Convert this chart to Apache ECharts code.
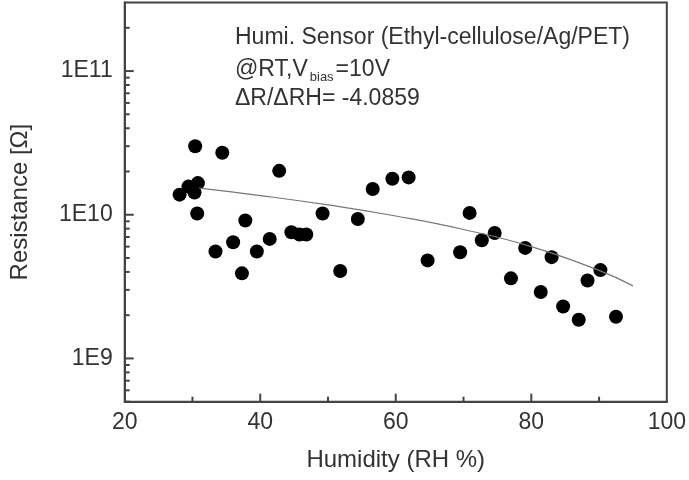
<!DOCTYPE html>
<html>
<head>
<meta charset="utf-8">
<script src="https://cdn.jsdelivr.net/npm/echarts@6/dist/echarts.min.js"></script>
<style>
  html, body { margin: 0; padding: 0; background: #fff; }
  #main { width: 689px; height: 480px; }
</style>
</head>
<body>
<div id="main"></div>
<script>
// measured points: humidity (RH %) and resistance (ohm)
var humidity = [28.1, 29.4, 30.3, 30.8, 30.4, 30.7, 33.4, 34.4, 36.0, 37.3, 37.8, 39.5, 41.4, 42.8,
    44.6, 45.8, 46.8, 49.2, 51.8, 54.4, 56.6, 59.5, 61.9, 64.7, 69.5, 70.9, 72.7, 74.6, 77.0,
    79.1, 81.4, 83.0, 84.7, 87.0, 88.3, 90.2, 92.5];
var resistance = [1.38e10, 1.57e10, 1.43e10, 1.66e10, 3.0e10, 1.02e10, 5.55e9, 2.70e10, 6.43e9, 3.91e9,
    9.13e9, 5.55e9, 6.79e9, 2.02e10, 7.55e9, 7.28e9, 7.28e9, 1.02e10, 4.06e9, 9.34e9, 1.51e10,
    1.78e10, 1.82e10, 4.81e9, 5.48e9, 1.03e10, 6.64e9, 7.47e9, 3.61e9, 5.88e9, 2.90e9, 5.07e9,
    2.30e9, 1.86e9, 3.49e9, 4.12e9, 1.95e9];

// fit curve
var fitRH = [31, 40, 50, 60, 70, 80, 90, 95];
var fitR = [1.53e10, 1.36e10, 1.17e10, 9.8e9, 7.9e9, 6.0e9, 4.1e9, 3.2e9];

// tick positions
var yMajorTicks = [1e9, 1e10, 1e11];
var yMinorTicks = [5e8, 6e8, 7e8, 8e8, 9e8,
    2e9, 3e9, 4e9, 5e9, 6e9, 7e9, 8e9, 9e9,
    2e10, 3e10, 4e10, 5e10, 6e10, 7e10, 8e10, 9e10,
    2e11];
var xTicks = [20, 40, 60, 80, 100];
var xMinorTicks = [30, 50, 70, 90];

var font = 'Liberation Sans, Arial, sans-serif';
var axisColor = '#444';

var points = [];
for (var i = 0; i < humidity.length; i++) points.push([humidity[i], resistance[i]]);
var fit = [];
for (var i = 0; i < fitRH.length; i++) fit.push([fitRH[i], fitR[i]]);

// tick marks: [x, y, direction (0 = right, 1 = up), length]
var ticks = [];
for (var i = 0; i < yMajorTicks.length; i++) ticks.push([20, yMajorTicks[i], 0, 9]);
for (var i = 0; i < yMinorTicks.length; i++) ticks.push([20, yMinorTicks[i], 0, 5]);
for (var i = 1; i < xTicks.length - 1; i++) ticks.push([xTicks[i], 5e8, 1, 8]);
for (var i = 0; i < xMinorTicks.length; i++) ticks.push([xMinorTicks[i], 5e8, 1, 5]);

var myChart = echarts.init(document.getElementById('main'));

var option = {
    animation: false,
    backgroundColor: '#fff',
    grid: {
        left: 124.7, right: 20.3, top: 2.5, bottom: 78.3,
        show: true, borderColor: axisColor, borderWidth: 2, backgroundColor: 'transparent'
    },
    xAxis: {
        type: 'value',
        min: 20, max: 100, interval: 20,
        name: 'Humidity (RH %)',
        nameLocation: 'middle',
        nameGap: 47,
        nameTextStyle: { fontFamily: font, fontSize: 24, color: '#333' },
        axisLine: { show: true, lineStyle: { color: axisColor, width: 2 } },
        axisTick: { show: false },
        splitLine: { show: false },
        axisLabel: { fontFamily: font, fontSize: 23, color: '#333', margin: 9 }
    },
    yAxis: {
        type: 'log',
        logBase: 10,
        min: 5e8, max: 3e11,
        name: 'Resistance [\u03A9]',
        nameLocation: 'middle',
        nameGap: 92,
        nameTextStyle: { fontFamily: font, fontSize: 24, color: '#333' },
        axisLine: { show: true, lineStyle: { color: axisColor, width: 2 } },
        axisTick: { show: false },
        splitLine: { show: false },
        axisLabel: {
            fontFamily: font, fontSize: 23, color: '#333', margin: 12,
            showMinLabel: false, showMaxLabel: false,
            formatter: function (v) {
                var e = Math.log10(v);
                if (Math.abs(e - Math.round(e)) > 1e-6) return '';
                return '1E' + Math.round(e);
            }
        }
    },
    graphic: [
        {
            type: 'text', left: 235, top: 26, silent: true,
            style: { text: 'Humi. Sensor (Ethyl-cellulose/Ag/PET)', font: '23px ' + font, fill: '#333' }
        },
        {
            type: 'text', left: 235, top: 56, silent: true,
            style: {
                text: '{a|@RT,V}{s|bias}{a|=10V}',
                fill: '#333',
                rich: {
                    a: { fontFamily: font, fontSize: 23, lineHeight: 28, fill: '#333' },
                    s: { fontFamily: font, fontSize: 13, lineHeight: 13, padding: [15, 2, 0, 2], fill: '#333' }
                }
            }
        },
        {
            type: 'text', left: 235, top: 87, silent: true,
            style: { text: '\u0394R/\u0394RH= -4.0859', font: '23px ' + font, fill: '#333' }
        }
    ],
    series: [
        {
            name: 'fit',
            type: 'line',
            smooth: true,
            showSymbol: false,
            silent: true,
            data: fit,
            lineStyle: { color: '#777', width: 1.2 }
        },
        {
            name: 'data',
            type: 'scatter',
            symbol: 'circle',
            symbolSize: 14,
            data: points,
            itemStyle: { color: '#000', opacity: 1 }
        },
        {
            // inner tick marks, placed through the axis scales
            name: 'ticks',
            type: 'custom',
            silent: true,
            clip: false,
            data: ticks,
            renderItem: function (params, api) {
                var p = api.coord([api.value(0), api.value(1)]);
                var len = api.value(3);
                var up = api.value(2) === 1;
                return {
                    type: 'line',
                    shape: { x1: p[0], y1: p[1], x2: up ? p[0] : p[0] + len, y2: up ? p[1] - len : p[1] },
                    style: { stroke: axisColor, lineWidth: 2 }
                };
            }
        }
    ]
};

myChart.setOption(option);
</script>
</body>
</html>
